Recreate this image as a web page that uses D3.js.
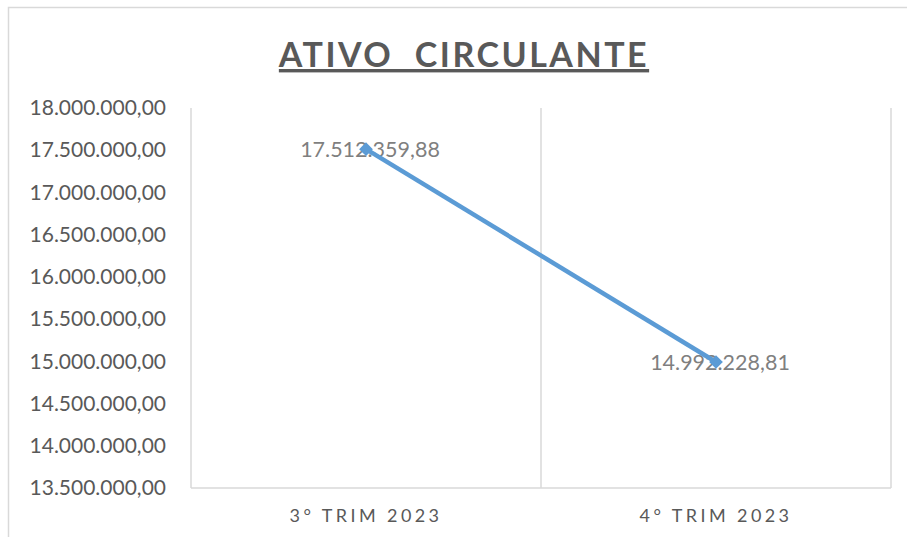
<!DOCTYPE html>
<html><head><meta charset="utf-8">
<script src="https://cdn.jsdelivr.net/npm/d3@7"></script>
<style>body{margin:0;background:#fff}svg{display:block}</style>
</head><body>
<script>
const categories = ["3° TRIM 2023", "4° TRIM 2023"];
const values = [17512359.88, 14992228.81];
const valueLabels = ["17.512.359,88", "14.992.228,81"];
const yTicks = [13500000, 14000000, 14500000, 15000000, 15500000, 16000000, 16500000, 17000000, 17500000, 18000000];
const title = "ATIVO  CIRCULANTE";

const W = 907, H = 537;
const FONT = "Lato, 'Open Sans', sans-serif";
const svg = d3.select("body").append("svg").attr("width", W).attr("height", H);
svg.append("rect").attr("x", 8.5).attr("y", 7.5).attr("width", 920).attr("height", 560)
  .attr("fill", "#fff").attr("stroke", "#d9d9d9").attr("stroke-width", 1.5);

const pL = 191, pR = 891, pT = 108, pB = 488;
const x = d3.scaleBand().domain(categories).range([pL, pR]);
const y = d3.scaleLinear().domain([13500000, 18000000]).range([pB, pT]);

const fmt = v => {
  const s = d3.format(",.2f")(v);
  return s.replace(/,/g, "#").replace(".", ",").replace(/#/g, ".");
};

// vertical gridlines at category boundaries
const bounds = [pL, pL + x.bandwidth(), pR];
svg.selectAll("line.vg").data(bounds).enter().append("line")
  .attr("x1", d => d).attr("x2", d => d).attr("y1", pT).attr("y2", pB)
  .attr("stroke", "#d9d9d9").attr("stroke-width", 1.5);
// baseline
svg.append("line").attr("x1", pL).attr("x2", pR).attr("y1", pB).attr("y2", pB)
  .attr("stroke", "#d9d9d9").attr("stroke-width", 1.5);

// y axis
const yAxis = d3.axisLeft(y).tickValues(yTicks).tickFormat(fmt).tickSize(0).tickPadding(25);
const ya = svg.append("g").attr("transform", `translate(${pL},0)`).call(yAxis);
ya.select(".domain").remove();
ya.selectAll("text").attr("font-family", FONT)
  .attr("font-size", 21).attr("fill", "#595959");

// x axis
const xAxis = d3.axisBottom(x).tickSize(0).tickPadding(21);
const xa = svg.append("g").attr("transform", `translate(0,${pB})`).call(xAxis);
xa.select(".domain").remove();
xa.selectAll("text").attr("font-family", FONT)
  .attr("font-size", 18).attr("fill", "#595959").attr("letter-spacing", "3.4px");

// title
svg.append("text").attr("x", 464).attr("y", 67).attr("text-anchor", "middle")
  .attr("font-family", FONT).attr("font-weight", "bold")
  .attr("font-size", 34).attr("fill", "#595959").attr("letter-spacing", "2.5px")
  .attr("text-decoration", "underline").style("white-space", "pre").text(title);

const cx = d => x(d) + x.bandwidth() / 2;
const data = categories.map((c, i) => ({c, v: values[i], l: valueLabels[i]}));

// data labels
svg.selectAll("text.dl").data(data).enter().append("text")
  .attr("x", d => cx(d.c) + 4).attr("y", d => y(d.v) + 8).attr("text-anchor", "middle")
  .attr("font-family", FONT)
  .attr("font-size", 21.5).attr("fill", "#7f7f7f").text(d => d.l);

// line
const line = d3.line().x(d => cx(d.c)).y(d => y(d.v));
svg.append("path").datum(data).attr("d", line).attr("fill", "none")
  .attr("stroke", "#5b9bd5").attr("stroke-width", 4.5);
svg.selectAll("path.mk").data(data).enter().append("path")
  .attr("d", d3.symbol().type(d3.symbolDiamond2).size(120))
  .attr("transform", d => `translate(${cx(d.c)},${y(d.v)})`).attr("fill", "#5b9bd5");
</script>
</body></html>
